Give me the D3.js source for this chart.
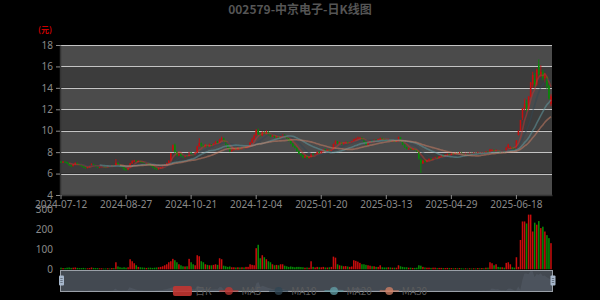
<!DOCTYPE html>
<html>
<head>
<meta charset="utf-8">
<script src="https://cdn.jsdelivr.net/npm/d3@7"></script>
<style>
  body { margin: 0; background: #000; }
  svg { display: block; font-family: "Noto Sans CJK SC", "Noto Sans", sans-serif; }
</style>
</head>
<body>
<div id="chart"></div>
<script>
// trading days, month by month
const tradingMonths = [
  ['2024-07', [12, 15, 16, 17, 18, 19, 22, 23, 24, 25, 26, 29, 30, 31]],
  ['2024-08', [1, 2, 5, 6, 7, 8, 9, 12, 13, 14, 15, 16, 19, 20, 21, 22, 23, 26, 27, 28, 29, 30]],
  ['2024-09', [2, 3, 4, 5, 6, 9, 10, 11, 12, 13, 18, 19, 20, 23, 24, 25, 26, 27, 30]],
  ['2024-10', [8, 9, 10, 11, 14, 15, 16, 17, 18, 21, 22, 23, 24, 25, 28, 29, 30, 31]],
  ['2024-11', [1, 4, 5, 6, 7, 8, 11, 12, 13, 14, 15, 18, 19, 20, 21, 22, 25, 26, 27, 28, 29]],
  ['2024-12', [2, 3, 4, 5, 6, 9, 10, 11, 12, 13, 16, 17, 18, 19, 20, 23, 24, 25, 26, 27, 30, 31]],
  ['2025-01', [2, 3, 6, 7, 8, 9, 10, 13, 14, 15, 16, 17, 20, 21, 22, 23, 24, 27]],
  ['2025-02', [5, 6, 7, 10, 11, 12, 13, 14, 17, 18, 19, 20, 21, 24, 25, 26, 27, 28]],
  ['2025-03', [3, 4, 5, 6, 7, 10, 11, 12, 13, 14, 17, 18, 19, 20, 21, 24, 25, 26, 27, 28, 31]],
  ['2025-04', [1, 2, 3, 7, 8, 9, 10, 11, 14, 15, 16, 17, 18, 21, 22, 23, 24, 25, 28, 29, 30]],
  ['2025-05', [6, 7, 8, 9, 12, 13, 14, 15, 16, 19, 20, 21, 22, 23, 26, 27, 28, 29, 30]],
  ['2025-06', [3, 4, 5, 6, 9, 10, 11, 12, 13, 16, 17, 18, 19, 20, 23, 24, 25, 26, 27, 30]],
  ['2025-07', [1, 2, 3, 4, 7, 8, 9, 10, 11]],
];

const opens = [
  7.10, 7.05, 7.12, 7.08, 6.95, 6.78, 6.70, 6.85, 7.00, 6.90,
  6.80, 6.70, 6.58, 6.52, 6.60, 6.72, 6.90, 6.80, 6.65, 6.55,
  6.62, 6.68, 6.64, 6.60, 6.70, 6.66, 6.75, 6.72, 7.00, 6.85,
  6.70, 6.60, 6.40, 6.35, 6.55, 6.95, 7.10, 7.22, 7.12, 7.18,
  7.08, 7.02, 6.95, 6.98, 6.85, 6.72, 6.60, 6.45, 6.40, 6.52,
  6.58, 6.72, 6.80, 6.98, 7.22, 8.20, 8.70, 8.00, 7.70, 7.85,
  7.60, 7.55, 7.70, 7.65, 7.95, 7.80, 7.72, 7.95, 8.55, 8.85,
  8.60, 8.50, 8.65, 8.55, 8.70, 8.60, 8.75, 8.95, 8.90, 9.15,
  9.30, 9.05, 8.70, 8.40, 8.10, 8.20, 8.35, 8.25, 8.38, 8.30,
  8.42, 8.35, 8.45, 8.55, 8.90, 9.20, 9.55, 10.05, 9.70, 9.55,
  9.85, 9.75, 9.90, 9.65, 9.50, 9.55, 9.40, 9.48, 9.35, 9.42,
  9.62, 9.50, 9.30, 9.05, 8.80, 8.55, 8.40, 8.10, 7.85, 7.70,
  7.50, 7.65, 7.45, 7.55, 7.85, 7.70, 7.80, 8.00, 7.95, 8.10,
  8.25, 8.15, 8.22, 8.10, 8.20, 8.75, 9.00, 8.85, 8.90, 8.75,
  8.85, 8.95, 8.85, 8.90, 9.00, 9.15, 9.25, 9.30, 9.35, 9.20,
  8.95, 8.70, 8.90, 9.05, 9.00, 9.15, 9.10, 9.20, 9.30, 9.20,
  9.15, 9.10, 9.20, 9.05, 9.10, 9.00, 9.05, 9.40, 9.00, 8.70,
  8.45, 8.30, 8.35, 8.25, 8.30, 8.20, 8.05, 7.30, 6.95, 7.20,
  7.10, 7.25, 7.35, 7.30, 7.45, 7.50, 7.45, 7.60, 7.70, 7.62,
  7.75, 7.80, 7.72, 7.85, 7.80, 7.90, 7.85, 7.95, 7.88, 7.82,
  7.90, 7.85, 7.92, 7.88, 7.95, 7.90, 7.95, 7.90, 7.98, 7.92,
  8.05, 8.00, 8.12, 8.20, 8.05, 8.15, 8.05, 8.00, 8.08, 8.02,
  8.40, 8.35, 8.45, 8.32, 8.30, 9.60, 10.01, 11.20, 12.11, 12.60,
  12.00, 13.20, 14.30, 14.80, 14.30, 16.20, 15.30, 15.50, 14.90, 15.00,
  14.20, 12.50,
];

const closes = [
  7.05, 7.12, 7.08, 6.95, 6.78, 6.70, 6.85, 7.00, 6.90, 6.80,
  6.70, 6.58, 6.52, 6.60, 6.72, 6.90, 6.80, 6.65, 6.55, 6.62,
  6.68, 6.64, 6.60, 6.70, 6.66, 6.75, 6.70, 7.00, 6.85, 6.70,
  6.60, 6.40, 6.35, 6.55, 6.95, 7.15, 7.22, 7.12, 7.18, 7.08,
  7.02, 6.95, 6.98, 6.85, 6.72, 6.60, 6.45, 6.40, 6.52, 6.58,
  6.72, 6.80, 6.98, 7.20, 7.92, 8.65, 8.00, 7.70, 7.85, 7.60,
  7.55, 7.70, 7.65, 7.95, 7.80, 7.72, 7.95, 8.55, 8.85, 8.60,
  8.50, 8.65, 8.55, 8.70, 8.60, 8.75, 8.95, 8.90, 9.15, 9.30,
  9.05, 8.70, 8.40, 8.10, 8.20, 8.35, 8.25, 8.38, 8.30, 8.42,
  8.35, 8.45, 8.55, 8.90, 9.20, 9.55, 10.05, 9.70, 9.55, 9.85,
  9.75, 9.90, 9.65, 9.50, 9.55, 9.40, 9.48, 9.35, 9.42, 9.62,
  9.50, 9.30, 9.05, 8.80, 8.55, 8.40, 8.10, 7.85, 7.70, 7.50,
  7.65, 7.45, 7.55, 7.85, 7.70, 7.80, 8.00, 7.95, 8.10, 8.25,
  8.15, 8.22, 8.10, 8.20, 8.75, 9.00, 8.85, 8.90, 8.75, 8.85,
  8.95, 8.85, 8.90, 9.00, 9.20, 9.25, 9.35, 9.35, 9.20, 8.95,
  8.70, 8.90, 9.05, 9.00, 9.15, 9.10, 9.20, 9.30, 9.20, 9.15,
  9.10, 9.20, 9.05, 9.10, 9.00, 9.05, 9.40, 9.00, 8.70, 8.45,
  8.30, 8.35, 8.25, 8.30, 8.20, 8.05, 7.40, 6.95, 7.20, 7.10,
  7.25, 7.35, 7.30, 7.45, 7.50, 7.45, 7.60, 7.70, 7.62, 7.75,
  7.80, 7.72, 7.85, 7.80, 7.90, 7.85, 7.95, 7.88, 7.82, 7.90,
  7.85, 7.92, 7.88, 7.95, 7.90, 8.00, 7.90, 7.98, 7.92, 8.05,
  8.00, 8.25, 8.20, 8.05, 8.15, 8.05, 8.00, 8.08, 8.02, 8.40,
  8.70, 8.45, 8.35, 8.28, 9.10, 10.01, 11.01, 12.11, 12.50, 12.00,
  13.20, 14.52, 15.20, 14.30, 15.70, 15.30, 15.50, 14.90, 15.20, 14.20,
  13.00, 13.20,
];

const highs = [
  7.18, 7.15, 7.15, 7.10, 6.98, 6.82, 6.90, 7.05, 7.02, 6.92,
  6.82, 6.72, 6.62, 6.64, 6.75, 6.95, 6.92, 6.82, 6.68, 6.66,
  6.72, 6.72, 6.68, 6.74, 6.74, 6.80, 6.80, 7.35, 7.05, 6.88,
  6.72, 6.62, 6.45, 6.60, 7.00, 7.25, 7.28, 7.25, 7.22, 7.20,
  7.12, 7.05, 7.02, 7.00, 6.88, 6.75, 6.62, 6.50, 6.55, 6.62,
  6.75, 6.85, 7.02, 7.25, 7.92, 8.71, 8.80, 8.10, 7.95, 7.90,
  7.70, 7.78, 7.80, 8.00, 8.00, 7.85, 8.00, 8.60, 9.30, 8.90,
  8.70, 8.75, 8.70, 8.80, 8.75, 8.85, 9.05, 9.05, 9.25, 9.45,
  9.35, 9.08, 8.75, 8.45, 8.28, 8.40, 8.40, 8.45, 8.42, 8.48,
  8.48, 8.50, 8.60, 8.95, 9.35, 9.65, 10.15, 10.20, 9.80, 9.95,
  9.95, 10.05, 9.95, 9.70, 9.62, 9.60, 9.55, 9.52, 9.50, 9.70,
  9.66, 9.52, 9.32, 9.10, 8.85, 8.60, 8.45, 8.15, 7.90, 7.75,
  7.72, 7.68, 7.62, 7.92, 7.90, 7.86, 8.05, 8.08, 8.15, 8.30,
  8.30, 8.28, 8.25, 8.25, 8.80, 9.10, 9.05, 8.98, 8.95, 8.92,
  9.00, 8.98, 8.95, 9.05, 9.25, 9.35, 9.45, 9.42, 9.40, 9.22,
  9.00, 8.95, 9.10, 9.10, 9.20, 9.20, 9.25, 9.35, 9.35, 9.25,
  9.20, 9.25, 9.22, 9.15, 9.12, 9.10, 9.45, 9.42, 9.02, 8.72,
  8.50, 8.40, 8.38, 8.35, 8.32, 8.22, 8.05, 7.40, 7.28, 7.30,
  7.32, 7.42, 7.42, 7.52, 7.58, 7.55, 7.65, 7.75, 7.74, 7.80,
  7.88, 7.84, 7.90, 7.92, 7.95, 7.95, 8.02, 7.98, 7.92, 7.95,
  7.94, 7.98, 7.96, 8.00, 7.98, 8.05, 8.00, 8.02, 8.02, 8.10,
  8.10, 8.30, 8.30, 8.25, 8.25, 8.18, 8.10, 8.12, 8.12, 8.50,
  8.78, 8.55, 8.48, 8.38, 9.11, 10.01, 11.01, 12.11, 13.00, 12.90,
  13.20, 14.52, 15.50, 15.40, 15.80, 16.65, 16.10, 15.70, 15.40, 15.10,
  14.30, 13.40,
];

const lows = [
  7.00, 7.00, 7.02, 6.90, 6.72, 6.62, 6.66, 6.82, 6.85, 6.75,
  6.65, 6.52, 6.48, 6.48, 6.56, 6.70, 6.75, 6.60, 6.50, 6.50,
  6.58, 6.60, 6.56, 6.58, 6.62, 6.62, 6.66, 6.70, 6.80, 6.65,
  6.55, 6.30, 6.28, 6.32, 6.52, 6.90, 7.05, 7.08, 7.05, 7.02,
  6.98, 6.90, 6.90, 6.80, 6.68, 6.55, 6.40, 6.32, 6.36, 6.48,
  6.55, 6.68, 6.78, 6.95, 7.18, 8.05, 7.95, 7.60, 7.62, 7.55,
  7.45, 7.50, 7.60, 7.62, 7.72, 7.65, 7.70, 7.92, 8.50, 8.50,
  8.40, 8.45, 8.45, 8.50, 8.52, 8.55, 8.70, 8.80, 8.85, 9.05,
  8.98, 8.65, 8.35, 8.00, 8.02, 8.15, 8.20, 8.20, 8.22, 8.26,
  8.30, 8.30, 8.40, 8.50, 8.85, 9.15, 9.50, 9.60, 9.45, 9.50,
  9.65, 9.70, 9.55, 9.40, 9.42, 9.32, 9.35, 9.28, 9.30, 9.38,
  9.42, 9.25, 9.00, 8.75, 8.50, 8.35, 8.05, 7.80, 7.60, 7.42,
  7.45, 7.38, 7.40, 7.50, 7.62, 7.65, 7.75, 7.88, 7.90, 8.05,
  8.10, 8.10, 8.05, 8.05, 8.18, 8.70, 8.78, 8.80, 8.70, 8.70,
  8.80, 8.78, 8.80, 8.85, 8.95, 9.10, 9.20, 9.25, 9.15, 8.90,
  8.65, 8.65, 8.85, 8.95, 8.95, 9.05, 9.05, 9.15, 9.15, 9.08,
  9.05, 9.05, 9.00, 9.00, 8.95, 8.95, 9.00, 8.95, 8.65, 8.40,
  8.25, 8.25, 8.20, 8.20, 8.15, 8.00, 7.30, 6.05, 6.90, 7.05,
  7.05, 7.20, 7.25, 7.28, 7.40, 7.40, 7.42, 7.55, 7.58, 7.60,
  7.70, 7.68, 7.70, 7.75, 7.76, 7.80, 7.82, 7.82, 7.78, 7.78,
  7.80, 7.82, 7.84, 7.85, 7.86, 7.88, 7.85, 7.85, 7.88, 7.90,
  7.95, 7.98, 8.08, 8.00, 8.02, 8.00, 7.95, 7.96, 7.98, 8.00,
  8.35, 8.30, 8.28, 8.22, 8.28, 9.55, 9.95, 11.00, 11.90, 11.80,
  11.95, 13.10, 14.00, 14.10, 14.20, 15.10, 15.00, 14.70, 14.50, 13.90,
  12.90, 12.30,
];

// volume, 万手
const volumes = [
  8, 6, 6, 8, 9, 7, 8, 9, 7, 6,
  6, 7, 5, 5, 6, 9, 7, 6, 6, 5,
  5, 4, 4, 5, 4, 6, 6, 35, 14, 10,
  8, 10, 8, 10, 50, 40, 30, 20, 12, 10,
  9, 8, 7, 8, 8, 7, 8, 9, 10, 12,
  15, 20, 25, 35, 40, 52, 45, 35, 25, 20,
  15, 14, 15, 52, 35, 25, 20, 70, 65, 40,
  35, 25, 22, 20, 20, 22, 25, 22, 55, 50,
  18, 15, 12, 14, 10, 10, 9, 10, 9, 10,
  9, 12, 12, 25, 22, 20, 105, 122, 55, 70,
  60, 50, 40, 35, 25, 20, 22, 20, 25, 25,
  18, 15, 12, 14, 12, 10, 12, 12, 11, 10,
  8, 9, 8, 40, 12, 9, 12, 10, 10, 12,
  9, 9, 10, 12, 63, 58, 25, 20, 18, 15,
  16, 14, 12, 14, 45, 42, 38, 32, 25, 25,
  22, 20, 18, 15, 15, 12, 12, 20, 10, 9,
  9, 10, 9, 8, 8, 8, 20, 15, 12, 10,
  10, 8, 8, 7, 7, 8, 20, 18, 12, 9,
  8, 8, 7, 8, 8, 6, 7, 7, 6, 6,
  7, 6, 6, 5, 6, 5, 6, 5, 4, 5,
  4, 5, 4, 5, 4, 6, 5, 6, 5, 8,
  8, 35, 30, 20, 25, 12, 10, 10, 8, 32,
  35, 25, 10, 8, 60, 12, 146, 238, 238, 228,
  272, 272, 188, 232, 222, 240, 205, 212, 188, 170,
  155, 130,
];

const tickDates = ['2024-07-12', '2024-08-27', '2024-10-21', '2024-12-04',
  '2025-01-20', '2025-03-13', '2025-04-29', '2025-06-18'];
const priceTicks = [4, 6, 8, 10, 12, 14, 16, 18];
const volumeTicks = [0, 100, 200, 300];
const maPeriods = [5, 10, 20, 30];

const titleText = '002579-中京电子-日K线图';
const unitText = '(元)';
const legendNames = ['日K', 'MA5', 'MA10', 'MA20', 'MA30'];

const upColor = '#c80d0d';
const downColor = '#078a07';
const maColors = ['#c23531', '#2f4554', '#61a0a8', '#d48265'];

const W = 600;
const H = 300;
const plot = { left: 60, right: 552, top: 45, bottom: 195 };
const volArea = { top: 209, bottom: 269.3 };
const slider = { left: 60, right: 553, top: 270, bottom: 291 };

const dates = tradingMonths.flatMap(([m, days]) => days.map((d) => `${m}-${String(d).padStart(2, '0')}`));
const idx = d3.range(dates.length);

const svg = d3.select('#chart')
  .append('svg')
  .attr('width', W)
  .attr('height', H);

svg.append('rect')
  .attr('width', W)
  .attr('height', H)
  .attr('fill', '#000');

const x = d3.scaleBand().domain(dates).range([plot.left, plot.right]);
const cx = (i) => x(dates[i]) + x.bandwidth() / 2;
const y = d3.scaleLinear().domain([4, 18]).range([plot.bottom, plot.top]);
const yVol = d3.scaleLinear().domain([0, 300]).range([volArea.bottom, volArea.top]);

// split areas + split lines
svg.append('g')
  .selectAll('rect')
  .data(d3.pairs(priceTicks))
  .join('rect')
  .attr('x', plot.left)
  .attr('width', plot.right - plot.left)
  .attr('y', (d) => y(d[1]))
  .attr('height', (d) => y(d[0]) - y(d[1]))
  .attr('fill', (d, i) => (i % 2 ? '#3c3c3c' : '#4b4b4b'));

svg.append('g')
  .selectAll('line')
  .data(priceTicks.slice(1))
  .join('line')
  .attr('x1', plot.left)
  .attr('x2', plot.right)
  .attr('y1', (d) => Math.round(y(d)) + 0.5)
  .attr('y2', (d) => Math.round(y(d)) + 0.5)
  .attr('stroke', '#c4c4c4')
  .attr('stroke-width', 1.2);

// axes
const yAxis = svg.append('g')
  .attr('transform', `translate(${plot.left},0)`)
  .call(d3.axisLeft(y).tickValues(priceTicks).tickSize(4).tickSizeOuter(0).tickPadding(3));

const xAxis = svg.append('g')
  .attr('transform', `translate(0,${plot.bottom})`)
  .call(d3.axisBottom(x).tickValues(tickDates).tickSize(4).tickSizeOuter(0).tickPadding(2));

[yAxis, xAxis].forEach((g) => {
  g.select('.domain').attr('stroke', '#333').attr('stroke-width', 1.5);
  g.selectAll('.tick line').attr('stroke', '#8a8a8a');
  g.selectAll('.tick text')
    .attr('fill', '#8a8a8a')
    .attr('font-size', 10)
    .attr('font-family', '"Noto Sans", sans-serif');
});

// volume axis labels
svg.append('g')
  .selectAll('text')
  .data(volumeTicks)
  .join('text')
  .attr('x', 53)
  .attr('y', (d) => yVol(d))
  .attr('dy', '0.35em')
  .attr('text-anchor', 'end')
  .attr('fill', '#8a8a8a')
  .attr('font-size', 10)
  .attr('font-family', '"Noto Sans", sans-serif')
  .text((d) => d);

// candles
const isUp = (i) => closes[i] >= opens[i];
const bodyW = x.bandwidth() * 0.75;
const candles = svg.append('g');

candles.selectAll('line')
  .data(idx)
  .join('line')
  .attr('x1', cx)
  .attr('x2', cx)
  .attr('y1', (i) => y(highs[i]))
  .attr('y2', (i) => y(lows[i]))
  .attr('stroke', (i) => (isUp(i) ? upColor : downColor))
  .attr('stroke-width', 0.9);

candles.selectAll('rect')
  .data(idx)
  .join('rect')
  .attr('x', (i) => cx(i) - bodyW / 2)
  .attr('width', bodyW)
  .attr('y', (i) => y(Math.max(opens[i], closes[i])))
  .attr('height', (i) => Math.max(1, Math.abs(y(opens[i]) - y(closes[i]))))
  .attr('fill', (i) => (isUp(i) ? upColor : downColor));

// moving averages
function movingAverage(period) {
  return closes.map((c, i) => (i < period - 1 ? null : d3.mean(closes.slice(i - period + 1, i + 1))));
}

const maLine = d3.line()
  .defined((d) => d[1] != null)
  .x((d) => cx(d[0]))
  .y((d) => y(d[1]))
  .curve(d3.curveMonotoneX);

maPeriods.forEach((p, k) => {
  const ma = movingAverage(p);
  svg.append('path')
    .datum(ma.map((v, i) => [i, v]))
    .attr('d', maLine)
    .attr('fill', 'none')
    .attr('stroke', maColors[k])
    .attr('stroke-opacity', 0.5)
    .attr('stroke-width', 1.6);
});

// volume bars
svg.append('g')
  .selectAll('rect')
  .data(idx)
  .join('rect')
  .attr('x', (i) => cx(i) - bodyW / 2)
  .attr('width', bodyW)
  .attr('y', (i) => yVol(volumes[i]))
  .attr('height', (i) => yVol(0) - yVol(volumes[i]))
  .attr('fill', (i) => (isUp(i) ? upColor : downColor));

// data zoom slider
const sx = d3.scaleLinear().domain([0, dates.length - 1]).range([slider.left, slider.right]);
const sy = d3.scaleLinear().domain([0, d3.max(volumes)]).range([slider.bottom, slider.top + 1]);

svg.append('rect')
  .attr('x', slider.left)
  .attr('y', slider.top)
  .attr('width', slider.right - slider.left)
  .attr('height', slider.bottom - slider.top)
  .attr('fill', '#434951');

svg.append('path')
  .datum(volumes)
  .attr('d', d3.area().x((d, i) => sx(i)).y0(slider.bottom).y1((d) => sy(d)))
  .attr('fill', 'rgba(120,135,150,0.18)');

svg.append('rect')
  .attr('x', slider.left + 0.5)
  .attr('y', slider.top + 0.5)
  .attr('width', slider.right - slider.left - 1)
  .attr('height', slider.bottom - slider.top)
  .attr('fill', 'none')
  .attr('stroke', '#9aa0a8')
  .attr('stroke-width', 1);

[slider.left + 1.5, slider.right].forEach((hx) => {
  const h = svg.append('g').attr('transform', `translate(${hx},${(slider.top + slider.bottom) / 2})`);
  h.append('rect')
    .attr('x', -2.5).attr('y', -5)
    .attr('width', 5).attr('height', 10)
    .attr('rx', 1)
    .attr('fill', '#a7b7cc');
  [-2, 0, 2].forEach((dy) => {
    h.append('line')
      .attr('x1', -1.2).attr('x2', 1.2)
      .attr('y1', dy).attr('y2', dy)
      .attr('stroke', '#5a6470')
      .attr('stroke-width', 0.8);
  });
});

// legend
const legend = svg.append('g')
  .attr('font-size', 10)
  .attr('font-family', '"Noto Sans CJK SC", "Noto Sans", sans-serif');
const legendY = 291;
const iconW = 19;
const textGap = 3;
const itemGap = 8;
const items = legendNames.map((name) => {
  const t = legend.append('text').attr('fill', '#5c5c5c').attr('dy', '0.35em').attr('y', legendY).text(name);
  return { name, t, w: t.node().getComputedTextLength() };
});
const totalW = d3.sum(items, (d) => iconW + textGap + d.w) + itemGap * (items.length - 1);
let lx = 300 - totalW / 2;
items.forEach((it, k) => {
  if (k === 0) {
    legend.append('rect')
      .attr('x', lx).attr('y', legendY - 5)
      .attr('width', iconW).attr('height', 10)
      .attr('rx', 2)
      .attr('fill', '#c23531')
      .attr('opacity', 0.9);
  } else {
    const c = maColors[k - 1];
    legend.append('line')
      .attr('x1', lx).attr('x2', lx + iconW)
      .attr('y1', legendY).attr('y2', legendY)
      .attr('stroke', c).attr('stroke-width', 1.5).attr('opacity', 0.7);
    legend.append('circle')
      .attr('cx', lx + iconW / 2).attr('cy', legendY)
      .attr('r', 4)
      .attr('fill', c).attr('opacity', 0.75);
  }
  it.t.attr('x', lx + iconW + textGap);
  lx += iconW + textGap + it.w + itemGap;
});

// title and unit
svg.append('text')
  .attr('x', W / 2)
  .attr('y', 14)
  .attr('text-anchor', 'middle')
  .attr('font-size', 12)
  .attr('font-weight', 'bold')
  .attr('fill', '#555')
  .text(titleText);

svg.append('text')
  .attr('x', 45)
  .attr('y', 33)
  .attr('text-anchor', 'middle')
  .attr('font-size', 8)
  .attr('font-weight', 'bold')
  .attr('fill', '#c00')
  .text(unitText);
</script>
</body>
</html>
